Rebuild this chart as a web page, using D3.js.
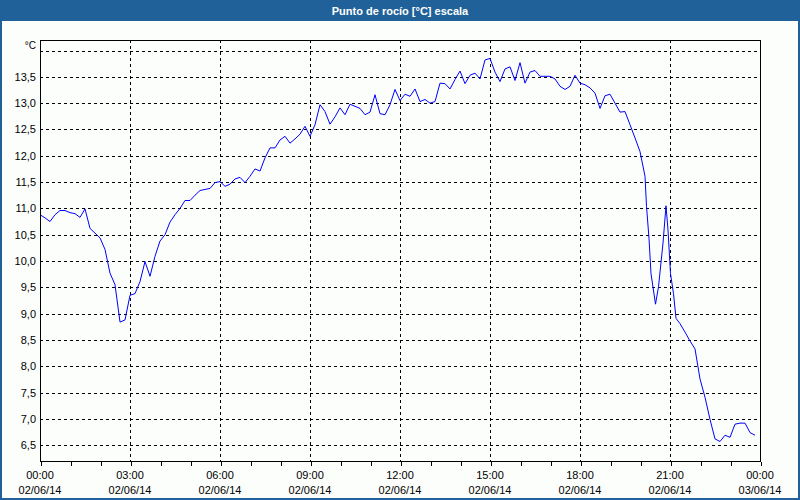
<!DOCTYPE html>
<html>
<head>
<meta charset="utf-8">
<script src="https://cdn.jsdelivr.net/npm/d3@7/dist/d3.min.js"></script>
<style>
  html, body { margin: 0; padding: 0; background: #fcfefc; }
  svg { display: block; }
</style>
</head>
<body>
<svg id="chart" width="800" height="500"></svg>
<script>
const chartTitle = "Punto de rocío [°C] escala";
const unitLabel = "°C";
const dateLabel = "02/06/14";
const nextDateLabel = "03/06/14";

const times = [
  "00:00","00:10","00:20","00:30","00:40","00:50","01:00","01:10","01:20","01:30","01:40","01:50",
  "02:00","02:10","02:20","02:30","02:40","02:50","03:00","03:10","03:20","03:30","03:40","03:50",
  "04:00","04:10","04:20","04:30","04:40","04:50","05:00","05:10","05:20","05:30","05:40","05:50",
  "06:00","06:10","06:20","06:30","06:40","06:50","07:00","07:10","07:20","07:30","07:40","07:50",
  "08:00","08:10","08:20","08:30","08:40","08:50","09:00","09:10","09:20","09:30","09:40","09:50",
  "10:00","10:10","10:20","10:30","10:40","10:50","11:00","11:10","11:20","11:30","11:40","11:50",
  "12:00","12:10","12:20","12:30","12:40","12:50","13:00","13:10","13:20","13:30","13:40","13:50",
  "14:00","14:10","14:20","14:30","14:40","14:50","15:00","15:10","15:20","15:30","15:40","15:50",
  "16:00","16:10","16:20","16:30","16:40","16:50","17:00","17:10","17:20","17:30","17:40","17:50",
  "18:00","18:10","18:20","18:30","18:40","18:50","19:00","19:10","19:20","19:30","19:40","19:50",
  "20:00","20:10","20:13","20:18","20:22","20:31","20:37","20:46","20:52","20:56","21:01","21:07",
  "21:12","21:20","21:30","21:40","21:50","22:00","22:10","22:20","22:30","22:40","22:50","23:00",
  "23:10","23:20","23:30","23:40","23:50"
];
const dewPoint = [
  10.88,10.82,10.75,10.88,10.96,10.96,10.92,10.90,10.83,10.99,10.62,10.53,
  10.44,10.22,9.77,9.55,8.84,8.88,9.35,9.38,9.61,9.99,9.71,10.09,
  10.38,10.50,10.74,10.88,11.00,11.15,11.15,11.25,11.34,11.36,11.38,11.49,
  11.51,11.42,11.46,11.56,11.59,11.49,11.61,11.75,11.71,11.96,12.15,12.15,
  12.30,12.37,12.24,12.32,12.41,12.56,12.37,12.59,12.97,12.84,12.60,12.74,
  12.91,12.78,12.98,12.94,12.90,12.78,12.83,13.16,12.80,12.78,12.97,13.26,
  13.05,13.17,13.13,13.27,13.03,13.07,13.00,13.03,13.38,13.37,13.27,13.45,
  13.61,13.37,13.53,13.57,13.46,13.82,13.85,13.59,13.41,13.65,13.69,13.43,
  13.77,13.38,13.59,13.62,13.51,13.51,13.51,13.46,13.32,13.26,13.32,13.53,
  13.38,13.35,13.29,13.19,12.90,13.14,13.17,13.00,12.83,12.84,12.59,12.34,
  12.08,11.61,11.04,10.43,9.76,9.18,9.51,10.34,11.05,10.59,9.76,9.38,
  8.91,8.81,8.65,8.48,8.33,7.76,7.41,6.99,6.62,6.57,6.69,6.65,
  6.90,6.92,6.92,6.74,6.69
];
const yTicks = [6.5,7.0,7.5,8.0,8.5,9.0,9.5,10.0,10.5,11.0,11.5,12.0,12.5,13.0,13.5,14.0];
const yLabelTicks = [6.5,7.0,7.5,8.0,8.5,9.0,9.5,10.0,10.5,11.0,11.5,12.0,12.5,13.0,13.5];
const yDomain = [6.2, 14.2];

const W = 800, H = 500;
const margin = {left: 40, right: 40, top: 40, bottom: 39};
const svg = d3.select("#chart");
const font = "'Liberation Sans', Arial, sans-serif";

const parseT = d3.timeParse("%Y-%m-%d %H:%M");
const day0 = parseT("2014-06-02 00:00");
const day1 = parseT("2014-06-03 00:00");
const data = times.map((t, i) => ({t: parseT("2014-06-02 " + t), v: dewPoint[i]}));

const x = d3.scaleTime().domain([day0, day1]).range([margin.left, W - margin.right]);
const y = d3.scaleLinear().domain(yDomain).range([H - margin.bottom, margin.top]);

// background
svg.append("rect").attr("width", W).attr("height", H).attr("fill", "#fcfefc");
// outer border
svg.append("rect").attr("x", 1).attr("y", 1).attr("width", W - 2).attr("height", H - 2)
  .attr("fill", "none").attr("stroke", "#1f6198").attr("stroke-width", 2);
// title bar
svg.append("rect").attr("x", 0).attr("y", 0).attr("width", W).attr("height", 21).attr("fill", "#1f6198");
svg.append("text").attr("x", W / 2).attr("y", 14.5).attr("text-anchor", "middle")
  .attr("fill", "#ffffff").attr("font-family", font).attr("font-weight", "bold").attr("font-size", "11px")
  .text(chartTitle);

const x0 = margin.left, x1 = W - margin.right, y0 = H - margin.bottom, y1 = margin.top;

// horizontal grid
svg.append("g").selectAll("line").data(yTicks).join("line")
  .attr("x1", x0).attr("x2", x1)
  .attr("y1", d => Math.round(y(d)) + 0.5).attr("y2", d => Math.round(y(d)) + 0.5)
  .attr("stroke", "#000").attr("stroke-width", 1).attr("stroke-dasharray", "3,3").attr("shape-rendering", "crispEdges");

// vertical grid every 3h
const gridTimes = d3.timeHour.every(3).range(d3.timeHour.offset(day0, 3), day1);
svg.append("g").selectAll("line").data(gridTimes).join("line")
  .attr("x1", d => Math.round(x(d)) + 0.5).attr("x2", d => Math.round(x(d)) + 0.5)
  .attr("y1", y1).attr("y2", y0)
  .attr("stroke", "#000").attr("stroke-width", 1).attr("stroke-dasharray", "3,3").attr("shape-rendering", "crispEdges");

// line
const line = d3.line().x(d => x(d.t)).y(d => y(d.v));
svg.append("path").datum(data).attr("d", line)
  .attr("fill", "none").attr("stroke", "#0000ff").attr("stroke-width", 1);

// frame
svg.append("rect").attr("x", x0 + 0.5).attr("y", y1 + 0.5).attr("width", x1 - x0).attr("height", y0 - y1)
  .attr("fill", "none").attr("stroke", "#000").attr("stroke-width", 1).attr("shape-rendering", "crispEdges");

// x axis ticks (minor hourly) and labels
const xAxis = d3.axisBottom(x)
  .ticks(d3.timeHour.every(1))
  .tickSize(4)
  .tickFormat("");
const gx = svg.append("g").attr("transform", `translate(0.5,${y0 + 0.5})`).call(xAxis);
gx.select(".domain").remove();
gx.selectAll(".tick line").attr("stroke", "#000").attr("shape-rendering", "crispEdges");

const labelTimes = d3.timeHour.every(3).range(day0, d3.timeHour.offset(day1, 1));
const fmtTime = d3.timeFormat("%H:%M");
const gl = svg.append("g").attr("font-family", font).attr("font-size", "11px").attr("fill", "#000");
labelTimes.forEach(t => {
  const tx = x(t);
  gl.append("text").attr("x", tx).attr("y", 479).attr("text-anchor", "middle").text(fmtTime(t));
  gl.append("text").attr("x", tx).attr("y", 494).attr("text-anchor", "middle")
    .text(+t === +day1 ? nextDateLabel : dateLabel);
});

// y labels
const fmtY = v => d3.format(".1f")(v).replace(".", ",");
const gy = svg.append("g").attr("font-family", font).attr("font-size", "11px").attr("fill", "#000");
gy.selectAll("text").data(yLabelTicks).join("text")
  .attr("x", 36).attr("y", d => y(d) + 4).attr("text-anchor", "end").text(fmtY);
gy.append("text").attr("x", 36).attr("y", 49).attr("text-anchor", "end").attr("font-size", "10px").text(unitLabel);
</script>
</body>
</html>
